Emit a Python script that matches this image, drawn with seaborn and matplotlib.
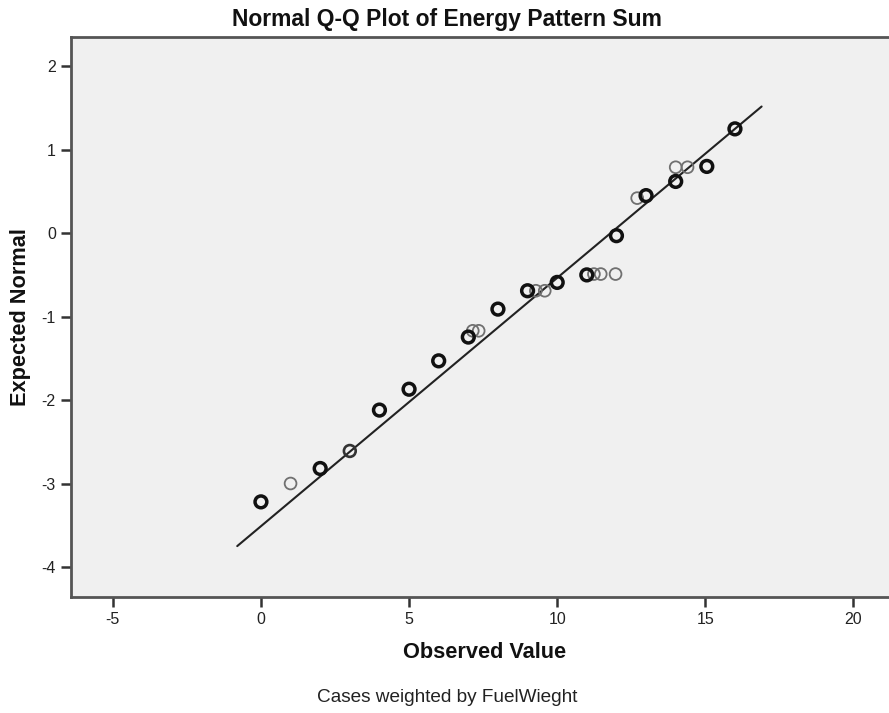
import matplotlib
matplotlib.use("Agg")
import matplotlib.pyplot as plt
import seaborn as sns
import pandas as pd

sns.set_theme(style="white")
plt.rcParams["font.family"] = ["Liberation Sans", "DejaVu Sans"]
plt.rcParams["axes.unicode_minus"] = False

# Observed sums and their expected normal scores
observed = [0, 1, 2, 3, 4, 5, 6, 7, 7.15, 7.35, 8, 9, 9.28, 9.58, 10, 11, 11.24,
            11.47, 11.97, 12, 12.7, 13, 14, 14, 14.4, 15.05, 16]
expected = [-3.22, -3.00, -2.82, -2.61, -2.12, -1.87, -1.53, -1.245, -1.17, -1.17,
            -0.91, -0.69, -0.69, -0.69, -0.59, -0.50, -0.49, -0.49, -0.49, -0.03,
            0.42, 0.45, 0.62, 0.79, 0.79, 0.80, 1.25]
# Overlap density of each plotted case (heavy = several coincident cases)
density = ["heavy", "light", "heavy", "mid", "heavy", "heavy", "heavy", "heavy",
           "light", "light", "heavy", "heavy", "light", "light", "heavy", "heavy",
           "light", "light", "light", "heavy", "light", "heavy", "heavy", "light",
           "light", "heavy", "heavy"]

# Reference line: normal distribution fitted to the observed values
fit_mean = 11.8
fit_sd = 3.36
line_x = [-0.8, 16.9]

x_ticks = [-5, 0, 5, 10, 15, 20]
y_ticks = [-4, -3, -2, -1, 0, 1, 2]

df = pd.DataFrame({"observed": observed, "expected": expected, "density": density})
line_df = pd.DataFrame({"x": line_x,
                        "y": [(v - fit_mean) / fit_sd for v in line_x]})

fig = plt.figure(figsize=(8.89, 7.13), dpi=100)
ax = fig.add_axes([0.0799, 0.1627, 0.9201, 0.7853])
ax.set_facecolor("#f0f0f0")

sns.lineplot(data=line_df, x="x", y="y", ax=ax, color="#222222", linewidth=1.5)

styles = {"light": ("#707070", 1.3), "mid": ("#333333", 1.9), "heavy": ("#111111", 2.5)}
for key, (col, lw) in styles.items():
    sub = df[df["density"] == key]
    sns.scatterplot(data=sub, x="observed", y="expected", ax=ax, s=72,
                    facecolors="none", edgecolor=col, linewidth=lw, marker="o",
                    zorder=3)

ax.set_xlim(-6.41, 21.2)
ax.set_ylim(-4.36, 2.35)
ax.set_xticks(x_ticks)
ax.set_yticks(y_ticks)
ax.tick_params(axis="both", direction="out", length=7, width=1.8, color="#333333",
               labelsize=11.5, labelcolor="#222222", pad=4)
ax.tick_params(axis="x", bottom=True)
ax.tick_params(axis="y", left=True)

for side in ["left", "bottom", "top"]:
    ax.spines[side].set_visible(True)
    ax.spines[side].set_color("#555555")
    ax.spines[side].set_linewidth(2)
ax.spines["right"].set_visible(False)

ax.set_xlabel("Observed Value", fontsize=15.7, fontweight="bold", color="#111111")
ax.set_ylabel("Expected Normal", fontsize=15.7, fontweight="bold", color="#111111")
ax.xaxis.set_label_coords(0.505, -0.1)
ax.xaxis.label.set_va("center")
ax.yaxis.set_label_coords(-0.0623, 0.5)
ax.yaxis.label.set_va("center")

fig.text(0.503, 0.973, "Normal Q-Q Plot of Energy Pattern Sum", ha="center",
         va="center", fontsize=16.5, fontweight="bold", color="#111111")
fig.text(0.503, 0.0224, "Cases weighted by FuelWieght", ha="center", va="center",
         fontsize=13.7, color="#222222")

fig.savefig("out.png", dpi=100)
